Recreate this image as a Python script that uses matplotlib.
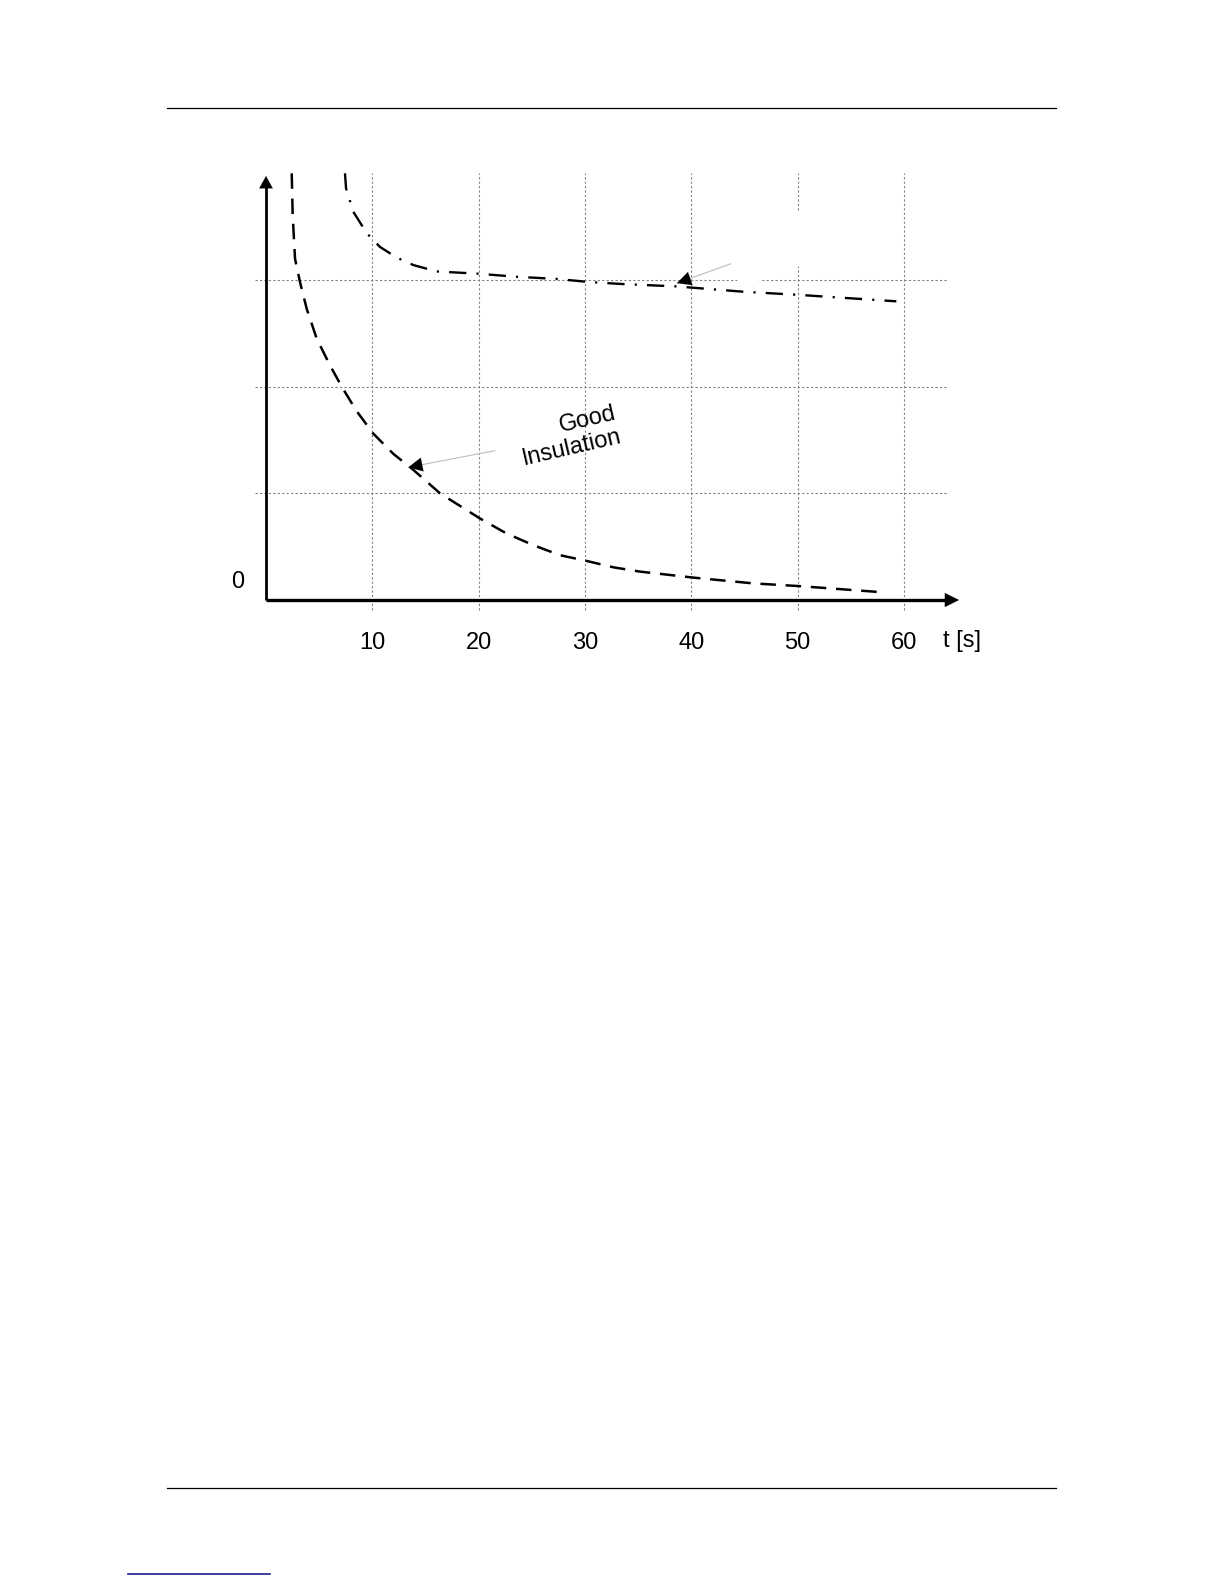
import matplotlib
matplotlib.use("Agg")
import matplotlib.pyplot as plt
from matplotlib.patches import Rectangle
from matplotlib.lines import Line2D
import matplotlib.transforms as mtransforms

plt.rcParams['font.family'] = ['Liberation Sans', 'DejaVu Sans']

# data (t in s, reading in grid units)
good_t = [2.42, 2.51, 2.73, 3.20, 3.83, 4.77, 6.02, 7.12, 8.53, 10.09, 11.98, 13.86,
          16.37, 20.1, 22.6, 25.1, 27.66, 30.17, 32.7, 35.2, 40.2, 45.8, 50.2, 58.07]
good_v = [4.00, 3.61, 3.20, 2.98, 2.73, 2.45, 2.20, 2.00, 1.77, 1.56, 1.37, 1.22,
          1.00, 0.766, 0.625, 0.516, 0.42, 0.366, 0.306, 0.266, 0.21, 0.156, 0.13, 0.072]

bad_t = [7.43, 7.53, 8.21, 9.47, 10.72, 12.3, 13.86, 16.06, 19.8, 23.6, 27.35,
         30.5, 33.9, 38.6, 44.9, 50.2, 59.3]
bad_v = [4.00, 3.86, 3.64, 3.44, 3.31, 3.21, 3.14, 3.08, 3.06, 3.03, 3.01,
         2.98, 2.96, 2.94, 2.89, 2.86, 2.80]

tick_t = [10, 20, 30, 40, 50, 60]
tick_labels = ["10", "20", "30", "40", "50", "60"]
grid_v = [1, 2, 3]

W, H = 1224, 1584
fig = plt.figure(figsize=(W / 100, H / 100), dpi=100)

# axes placed so that t=0 sits at x=266px, v=0 at y=600px (from top)
px_t, px_v = 10.63, 106.67
x0, y0 = 266, 600
tmin, tmax, vmin, vmax = -4, 68, -0.7, 4.3
left = (x0 + tmin * px_t) / W
width = (tmax - tmin) * px_t / W
bottom = (H - (y0 - vmin * px_v)) / H
height = (vmax - vmin) * px_v / H
ax = fig.add_axes([left, bottom, width, height])
ax.set_xlim(tmin, tmax)
ax.set_ylim(vmin, vmax)
ax.axis('off')

# dotted grid
for t in tick_t:
    ax.plot([t, t], [-0.094, 4.0], color='#808080', lw=0.8,
            linestyle=(0, (2, 2)), zorder=1)
for v in grid_v:
    ax.plot([-1.03, 64.1], [v, v], color='#808080', lw=0.8,
            linestyle=(0, (2, 2)), zorder=1)

# white patch hiding the lost label of the upper curve
box = Rectangle((740, H - 288), 115, 52, angle=20, facecolor='white',
                edgecolor='none', transform=mtransforms.IdentityTransform(),
                zorder=2)
fig.add_artist(box)

# axes with arrows
ax.plot([0, 0], [0, 3.87], color='black', lw=2.0, solid_capstyle='butt', zorder=4)
ax.plot([0, 63.95], [0, 0], color='black', lw=2.4, solid_capstyle='butt', zorder=4)
ax.annotate('', xy=(0, 3.975), xytext=(0, 3.7),
            arrowprops=dict(arrowstyle='-|>,head_length=0.40,head_width=0.22',
                            color='black', lw=0.1, mutation_scale=22,
                            shrinkA=0, shrinkB=0), zorder=4)
ax.annotate('', xy=(65.2, 0), xytext=(62.5, 0),
            arrowprops=dict(arrowstyle='-|>,head_length=0.46,head_width=0.23',
                            color='black', lw=0.1, mutation_scale=22,
                            shrinkA=0, shrinkB=0), zorder=4)

# curves
ax.plot(good_t, good_v, color='black', lw=1.8, linestyle=(0, (6.2, 3.9)),
        zorder=3)
ax.plot(bad_t, bad_v, color='black', lw=1.7,
        linestyle=(0, (7.3, 4.3, 0.9, 4.3)), zorder=3)

# tick labels
for t, lab in zip(tick_t, tick_labels):
    ax.text(t, -0.40, lab, ha='center', va='center', fontsize=17)
ax.text(65.5, -0.38, "t [s]", ha='center', va='center', fontsize=17)
ax.text(-2.63, 0.17, "0", ha='center', va='center', fontsize=17)

# annotation for the good insulation curve
ax.text(28.55, 1.535, "Good\nInsulation", ha='center', va='center',
        multialignment='right', fontsize=17, rotation=13, linespacing=1.08,
        rotation_mode='anchor')
ax.annotate('', xy=(13.39, 1.244), xytext=(21.54, 1.40),
            arrowprops=dict(arrowstyle='-', color='#bdbdbd', lw=0.8,
                            shrinkA=0, shrinkB=0))
ax.annotate('', xy=(13.39, 1.244), xytext=(14.6, 1.268),
            arrowprops=dict(arrowstyle='-|>,head_length=0.5,head_width=0.25',
                            color='black', lw=0.1, mutation_scale=20,
                            shrinkA=0, shrinkB=0))

# pointer for the upper curve
ax.annotate('', xy=(38.66, 2.97), xytext=(43.93, 3.16),
            arrowprops=dict(arrowstyle='-', color='#bdbdbd', lw=0.8,
                            shrinkA=0, shrinkB=0))
ax.annotate('', xy=(38.66, 2.97), xytext=(39.8, 3.01),
            arrowprops=dict(arrowstyle='-|>,head_length=0.5,head_width=0.25',
                            color='black', lw=0.1, mutation_scale=20,
                            shrinkA=0, shrinkB=0))

# page rules
fig.add_artist(Line2D([167 / W, 1056 / W], [1 - 108 / H, 1 - 108 / H],
                      color='black', lw=0.9))
fig.add_artist(Line2D([167 / W, 1056 / W], [1 - 1488 / H, 1 - 1488 / H],
                      color='black', lw=0.9))
fig.add_artist(Line2D([128 / W, 270 / W], [1 - 1573.5 / H, 1 - 1573.5 / H],
                      color='#1f1f8f', lw=1.2))

fig.savefig("out.png", dpi=100)
